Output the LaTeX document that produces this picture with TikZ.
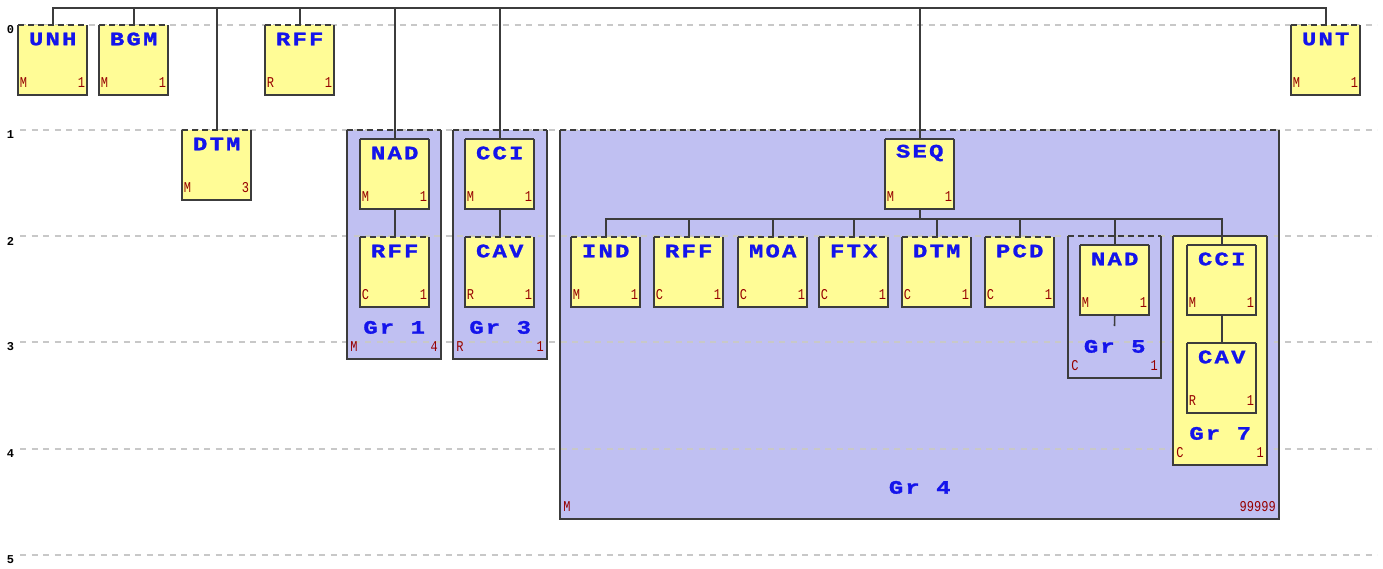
\documentclass[tikz,border=0pt]{standalone}
\usepackage{fontspec}
\newfontfamily\ttlfont[FakeStretch=1.25,LetterSpace=12,FakeBold=1.5]{Liberation Mono Bold}
\newfontfamily\tagfont[FakeStretch=0.8]{Liberation Mono}
\newfontfamily\lvfont{Liberation Mono Bold}
\definecolor{boxyellow}{RGB}{255,252,150}
\definecolor{lav}{RGB}{192,192,242}
\definecolor{edgegray}{RGB}{60,60,60}
\definecolor{lvlgray}{RGB}{200,200,200}
\definecolor{titleblue}{RGB}{20,20,235}
\definecolor{tagred}{RGB}{150,0,0}
\pgfdeclarelayer{bg}
\pgfdeclarelayer{lines}
\pgfsetlayers{bg,lines,main}
\tikzset{
  ebx/.style={rectangle,inner sep=0,minimum width=69pt,minimum height=70pt,fill=boxyellow,draw=none,anchor=north west},
  grp/.style={rectangle,inner sep=0,draw=none,anchor=north west},
  edge/.style={draw=edgegray,line width=1.9pt},
  topdash/.style={dash pattern=on 6pt off 4pt},
  ttl/.style={font=\ttlfont\fontsize{19}{19}\selectfont,text=titleblue,inner sep=0},
  tag/.style={font=\tagfont\fontsize{15}{15}\selectfont,text=tagred,inner sep=0},
  conn/.style={draw=edgegray,line width=1.6pt},
  lvl/.style={draw=lvlgray,line width=1.6pt,dash pattern=on 6pt off 5.5pt},
  lvlab/.style={font=\lvfont\fontsize{12}{12}\selectfont,inner sep=0},
}
% #1 name, #2 x, #3 y, #4 title, #5 left tag, #6 right tag, #7 top style
\newcommand\ebox[7]{%
  \node[ebx] (#1) at (#2,#3) {};
  \draw[edge] (#1.north west) -- (#1.south west) -- (#1.south east) -- (#1.north east);
  \draw[edge,#7] (#1.north west) -- (#1.north east);
  \node[ttl] (#1-t) at ([yshift=-14pt]#1.north) {#4};
  \node[tag] (#1-l) at ([xshift=5.5pt,yshift=13pt]#1.south west) {#5};
  \node[tag] (#1-r) at ([xshift=-6pt,yshift=13pt]#1.south east) {#6};
}
% group border + texts: #1 name, #2 label, #3 left tag, #4 right tag, #5 top style
\newcommand\gborder[5]{%
  \draw[edge] (#1.north west) -- (#1.south west) -- (#1.south east) -- (#1.north east);
  \draw[edge,#5] (#1.north west) -- (#1.north east);
  \node[ttl] (#1-t) at ([yshift=32pt]#1.south) {#2};
  \node[tag] (#1-l) at ([xshift=7pt,yshift=13pt]#1.south west) {#3};
  \node[tag,anchor=east] (#1-r) at ([xshift=-3.5pt,yshift=13pt]#1.south east) {#4};
}
\begin{document}
\begin{tikzpicture}[x=1pt,y=-1pt]
\useasboundingbox (0,0) rectangle (1383,568);
% group fills
\begin{pgfonlayer}{bg}
  \node[grp,fill=lav,minimum width=94pt,minimum height=229pt] (g1) at (347,130) {};
  \node[grp,fill=lav,minimum width=94pt,minimum height=229pt] (g3) at (453,130) {};
  \node[grp,fill=lav,minimum width=719pt,minimum height=389pt] (g4) at (560,130) {};
  \node[grp,fill=lav,minimum width=93pt,minimum height=142pt] (g5) at (1068,236) {};
\end{pgfonlayer}
% level lines
\begin{pgfonlayer}{lines}
  \foreach \k/\yy in {0/25,1/130,2/236,3/342,4/449,5/555}{
    \draw[lvl] (20,\yy) -- (1377,\yy);
    \node[lvlab] (lv\k) at (10.5,\yy+5) {\k};
  }
\end{pgfonlayer}
\node[grp,fill=boxyellow,minimum width=94pt,minimum height=229pt] (g7) at (1173,236) {};
% group borders
\gborder{g1}{Gr 1}{M}{4}{topdash}
\gborder{g3}{Gr 3}{R}{1}{topdash}
\gborder{g4}{Gr 4}{M}{99999}{topdash}
\gborder{g5}{Gr 5}{C}{1}{topdash}
\gborder{g7}{Gr 7}{C}{1}{solid}
% boxes
\ebox{unh}{18}{25}{UNH}{M}{1}{topdash}
\ebox{bgm}{99}{25}{BGM}{M}{1}{topdash}
\ebox{rffa}{265}{25}{RFF}{R}{1}{topdash}
\ebox{unt}{1291}{25}{UNT}{M}{1}{topdash}
\ebox{dtma}{182}{130}{DTM}{M}{3}{topdash}
\ebox{nada}{360}{139}{NAD}{M}{1}{solid}
\ebox{rffb}{360}{237}{RFF}{C}{1}{topdash}
\ebox{ccia}{465}{139}{CCI}{M}{1}{solid}
\ebox{cava}{465}{237}{CAV}{R}{1}{topdash}
\ebox{seq}{885}{139}{SEQ}{M}{1}{solid}
\ebox{ind}{571}{237}{IND}{M}{1}{topdash}
\ebox{rffc}{654}{237}{RFF}{C}{1}{topdash}
\ebox{moa}{738}{237}{MOA}{C}{1}{topdash}
\ebox{ftx}{819}{237}{FTX}{C}{1}{topdash}
\ebox{dtmb}{902}{237}{DTM}{C}{1}{topdash}
\ebox{pcd}{985}{237}{PCD}{C}{1}{topdash}
\ebox{nadb}{1080}{245}{NAD}{M}{1}{solid}
\ebox{ccib}{1187}{245}{CCI}{M}{1}{solid}
\ebox{cavb}{1187}{343}{CAV}{R}{1}{solid}
% connectors
\coordinate (bus) at (0,8);
\coordinate (busb) at (0,219);
\coordinate (stub) at (1114.5,326);
\draw[conn] (unh.north) -- (unh.north |- bus) -- (unt.north |- bus) -- (unt.north);
\foreach \n in {bgm,rffa,dtma,nada,ccia,seq}{
  \draw[conn] (\n.north) -- (\n.north |- bus);
}
\draw[conn] (nada.south) -- (rffb.north);
\draw[conn] (ccia.south) -- (cava.north);
\draw[conn] (seq.south) -- (seq.south |- busb);
\draw[conn] (ind.north) -- (ind.north |- busb) -- (ccib.north |- busb) -- (ccib.north);
\foreach \n in {rffc,moa,ftx,dtmb,pcd,nadb}{
  \draw[conn] (\n.north) -- (\n.north |- busb);
}
\draw[conn] (nadb.south) -- (stub);
\draw[conn] (ccib.south) -- (cavb.north);
\end{tikzpicture}
\end{document}
